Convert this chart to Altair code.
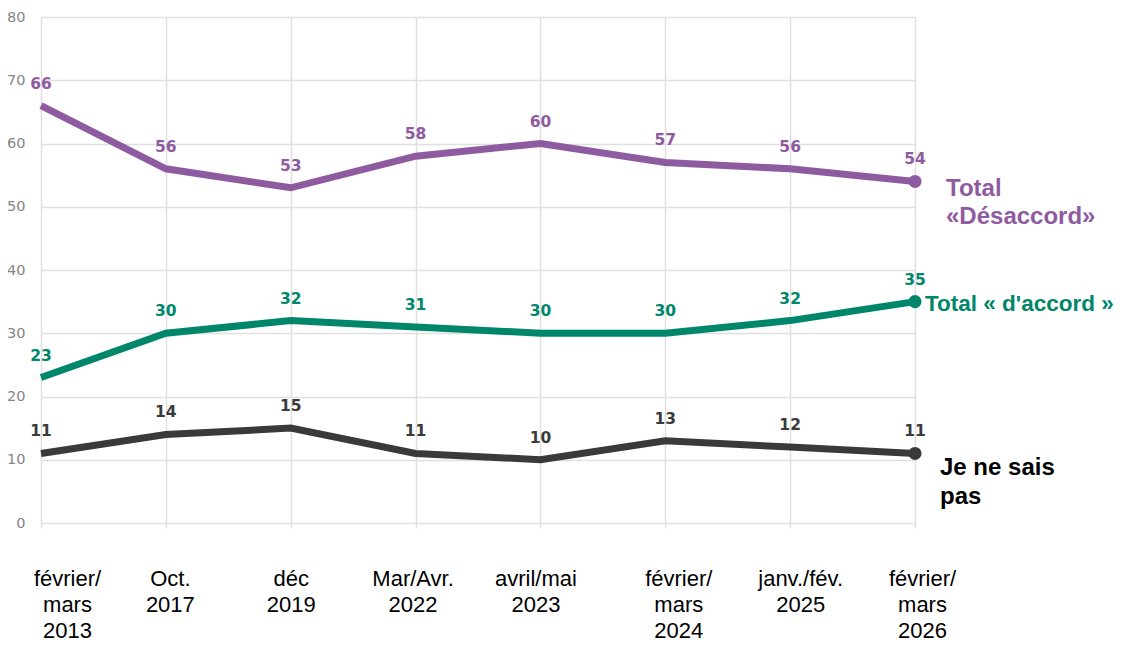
import altair as alt
import pandas as pd

periods = ["février/|mars|2013", "Oct.|2017", "déc|2019", "Mar/Avr.|2022",
           "avril/mai|2023", "février/|mars|2024", "janv./fév.|2025", "février/|mars|2026"]
series = ["Total «Désaccord»", "Total « d'accord »", "Je ne sais pas"]
desaccord = [66, 56, 53, 58, 60, 57, 56, 54]
accord = [23, 30, 32, 31, 30, 30, 32, 35]
nsp = [11, 14, 15, 11, 10, 13, 12, 11]
colors = ["#8e5ba0", "#00866a", "#3a3a3a"]
end_labels = ["Total\n«Désaccord»", "Total « d'accord »", "Je ne sais\npas"]
end_label_colors = ["#8e5ba0", "#00866a", "#000000"]
y_ticks = [0, 10, 20, 30, 40, 50, 60, 70, 80]

rows = []
for s, vals, lab in zip(series, [desaccord, accord, nsp], end_labels):
    for p, v in zip(periods, vals):
        rows.append({"period": p, "series": s, "value": v, "endlabel": lab})
df = pd.DataFrame(rows)

label_offsets = [26, 4, 0, -3, -5, 13, 10, 7]
offset_cond = {"condition": [{"test": f"datum.value == '{p}'", "value": o}
                             for p, o in zip(periods, label_offsets)], "value": 0}

x = alt.X("period:N", sort=periods, title=None,
          scale=alt.Scale(type="point", padding=0),
          axis=alt.Axis(labelAngle=0, domain=False, ticks=True, tickSize=5,
                        tickColor="#e0e0e0", tickWidth=1.5,
                        grid=True, gridColor="#e0e0e0", gridWidth=1.5,
                        labelExpr="split(datum.label, '|')",
                        labelFont="Liberation Sans", labelFontSize=22,
                        labelColor="#000000", labelLineHeight=26,
                        labelBaseline="top",
                        labelPadding=40, labelOffset=offset_cond))
y = alt.Y("value:Q", title=None,
          scale=alt.Scale(domain=[0, 80], nice=False, zero=True),
          axis=alt.Axis(values=y_ticks, domain=False, ticks=False,
                        grid=True, gridColor="#e0e0e0", gridWidth=1.5,
                        labelFont="DejaVu Sans", labelFontSize=14.5,
                        labelColor="#858585", labelPadding=16))
color = alt.Color("series:N", scale=alt.Scale(domain=series, range=colors), legend=None)

base = alt.Chart(df).encode(x=x, y=y)

lines = base.mark_line(strokeWidth=7).encode(color=color)
last = base.transform_filter(alt.datum.period == periods[-1])
points = last.mark_circle(size=170, opacity=1).encode(color=color)
values = base.mark_text(dy=-22, font="DejaVu Sans", fontSize=15.5, fontWeight="bold",
                        baseline="middle").encode(text="value:Q", color=color)

label_specs = [(31, 8, 24, 28), (10, 2, 22.5, 28), (25, 15, 24, 29)]
label_layers = []
for s, c, (dx, dy, fs, lh) in zip(series, end_label_colors, label_specs):
    label_layers.append(
        last.transform_filter(alt.datum.series == s)
        .mark_text(align="left", baseline="middle", dx=dx, dy=dy, lineBreak="\n",
                   font="Liberation Sans", fontSize=fs, fontWeight="bold",
                   color=c, lineHeight=lh)
        .encode(text="endlabel:N")
    )

chart = alt.layer(lines, points, values, *label_layers).properties(
    width=874, height=506,
    autosize=alt.AutoSizeParams(type="none"),
    padding={"left": 33, "top": 9, "right": 203, "bottom": 120},
).configure_view(stroke=None)

chart.save("out.html", embed_options={"renderer": "svg", "actions": False})
